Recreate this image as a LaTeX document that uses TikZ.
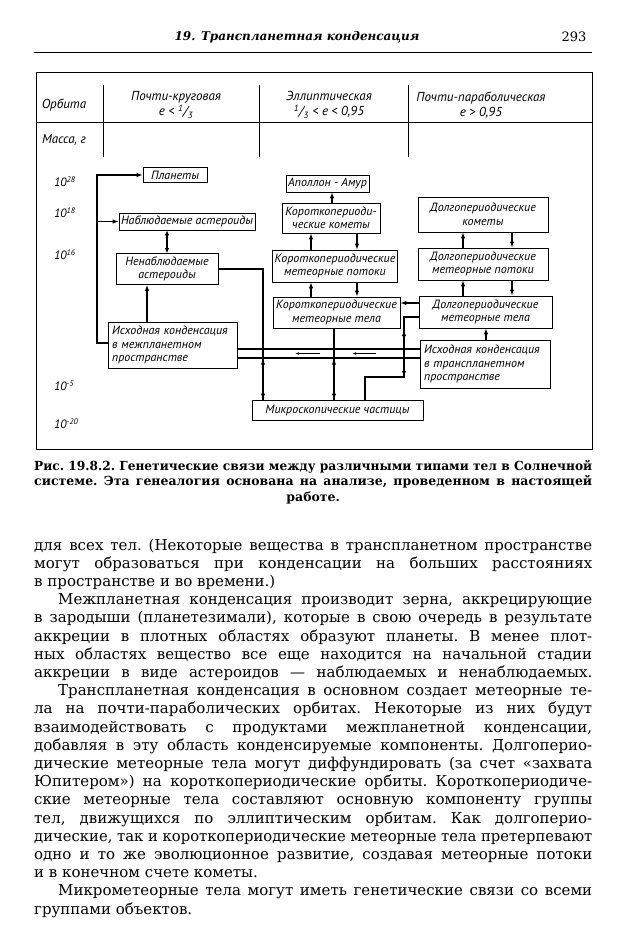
\documentclass[tikz,border=0pt]{standalone}
\usepackage{fontspec}
\usepackage{graphicx}
\setmainfont{DejaVu Serif}
\newfontfamily\diagfont{PT Sans}
\usetikzlibrary{arrows.meta}
\newsavebox\lnbox
\newcommand\fullln[1]{\sbox\lnbox{#1}%
  \ifdim\wd\lnbox>\linewidth\resizebox{\linewidth}{\height}{\usebox\lnbox}%
  \else\makebox[\linewidth][s]{#1}\fi\par}
\newcommand\lastln[1]{#1\par}
\begin{document}
\begin{tikzpicture}[x=1pt,y=-1pt,
  box/.style={draw,line width=0.7pt,inner sep=2pt,align=center,
    font=\diagfont\itshape\fontsize{12}{13.5}\selectfont},
  sz/.style 2 args={minimum width=#1,minimum height=#2},
  lab/.style={inner sep=0pt,font=\diagfont\itshape\fontsize{13}{15}\selectfont},
  link/.style={line width=1.6pt},
  tip/.style={-{Latex[length=6pt,width=4.5pt]}},
  small/.style={line width=0.6pt,-{Latex[length=4pt,width=2.5pt]}}]
\useasboundingbox (0,0) rectangle (628,950);
% running head
\node[font=\bfseries\itshape\fontsize{12}{14}\selectfont] (runhead) at (297,37) {19. Транспланетная конденсация};
\node[font=\fontsize{13}{14}\selectfont] (pagenum) at (574,37) {293};
\draw[line width=0.8pt] (34,52) -- (592,52);
% frame and table head
\draw[line width=0.8pt] (36,72) rectangle (592,449);
\draw[line width=0.7pt] (36,122) -- (592,122);
\foreach \x in {103,259,408}
  \draw[line width=0.7pt] (\x,85) -- (\x,157);
\node[lab] (orbit) at (64,105) {Орбита};
\node[lab] (mass) at (64,140) {Масса, г};
\node[lab,align=center] (col1) at (176,105) {Почти-круговая\\e < \textsuperscript{1}/\textsubscript{3}};
\node[lab,align=center] (col2) at (329,105) {Эллиптическая\\\textsuperscript{1}/\textsubscript{3} < e < 0,95};
\node[lab,align=center] (col3) at (481,105) {Почти-параболическая\\e > 0,95};
\foreach \y/\m [count=\i] in {182/28,213/18,255/16,386/-5,424/-20}
  \node[lab,anchor=west,font=\diagfont\itshape\fontsize{12}{14}\selectfont] (mass\i) at (54,\y) {10\textsuperscript{\m}};
% boxes
\node[box,sz={64}{15}] (plan) at (175,175) {Планеты};
\node[box,sz={136}{17}] (nabl) at (187,221.5) {Наблюдаемые астероиды};
\node[box,sz={102}{31}] (nenabl) at (167,269) {Ненаблюдаемые\\астероиды};
\node[box,sz={129}{46},text width=121pt,align=left] (imc) at (172.5,345) {Исходная конденсация\\в межпланетном\\пространстве};
\node[box,sz={81}{17}] (apol) at (327.5,183.5) {Аполлон - Амур};
\node[box,sz={98}{30}] (kk) at (331,218) {Короткопериоди-\\ческие кометы};
\node[box,sz={124}{32}] (kp) at (335,266) {Короткопериодические\\метеорные потоки};
\node[box,sz={127}{31}] (kt) at (336.5,312.5) {Короткопериодические\\метеорные тела};
\node[box,sz={130}{35}] (dk) at (483,214.5) {Долгопериодические\\кометы};
\node[box,sz={130}{32}] (dp) at (483,264) {Долгопериодические\\метеорные потоки};
\node[box,sz={133}{32}] (dt) at (485.5,312) {Долгопериодические\\метеорные тела};
\node[box,sz={130}{48},text width=122pt,align=left] (itc) at (485,364) {Исходная конденсация\\в транспланетном\\пространстве};
\node[box,sz={171}{20}] (micro) at (337.5,410) {Микроскопические частицы};
% links
\coordinate (trunk) at (97,0);
\coordinate (bend) at (404,377);
\draw[link,tip] (imc.west |- 0,343) -| (trunk |- plan.west) -- (plan.west);
\draw[link,tip] (trunk |- nabl.west) -- (nabl.west);
\draw[link,{Latex[length=5pt,width=4.5pt]}-{Latex[length=5pt,width=4.5pt]}] (nabl.south -| nenabl.north) -- (nenabl.north);
\draw[link,tip] (imc.north -| 147,0) -- (nenabl.south -| 147,0);
\draw[link] (imc.east |- 0,349) -- (itc.west |- 0,349);
\draw[link] (imc.east |- 0,358) -- (itc.west |- 0,358);
\draw[small] (320,353.5) -- (295,353.5);
\draw[small] (376,353.5) -- (352,353.5);
\draw[link,tip] (nenabl.east) -| (micro.north -| 263,0);
\draw[link,tip] (kt.south -| 334,0) -- (micro.north -| 334,0);
\foreach \x in {263,334}
  \draw[link,tip] (micro.north -| \x,0) -- ++(0,-41);
\draw[link,tip] (dt.west |- 0,303) -- (kt.east |- 0,303);
\draw[link] (dt.west |- 0,317) -| (bend) -| (micro.north -| 365,0);
\draw[link,tip] (bend |- 0,349) -- (bend |- 0,330);
\draw[link,tip] (bend |- 0,362) -- (bend);
\foreach \lo/\hi in {kp/kk,kt/kp}{
  \draw[link,tip] (\lo.north -| 311,0) -- (\hi.south -| 311,0);
  \draw[link,tip] (\hi.south -| 357,0) -- (\lo.north -| 357,0);
}
\foreach \lo/\hi in {dp/dk,dt/dp}{
  \draw[link,tip] (\lo.north -| 463,0) -- (\hi.south -| 463,0);
  \draw[link,tip] (\hi.south -| 512,0) -- (\lo.north -| 512,0);
}
\draw[link,tip] (kk.north -| 332,0) -- (apol.south -| 332,0);
\draw[link,tip] (itc.north -| 486,0) -- (dt.south -| 486,0);
% caption
\node[anchor=base west,inner sep=0pt] (caption) at (34,470) {\parbox[t]{558pt}{\frenchspacing\bfseries\fontsize{12.5}{15.5}\selectfont
\fullln{Рис. 19.8.2. Генетические связи между различными типами тел в Солнечной}
\fullln{системе. Эта генеалогия основана на анализе, проведенном в настоящей}
\makebox[\linewidth][c]{работе.}}};
% text
\node[anchor=base west,inner sep=0pt] (body) at (34,550) {\parbox[t]{558pt}{\frenchspacing\fontsize{15}{18.2}\selectfont
\fullln{для всех тел. (Некоторые вещества в транспланетном пространстве}
\fullln{могут образоваться при конденсации на больших расстояниях}
\lastln{в пространстве и во времени.)}
\fullln{\hspace*{24pt}Межпланетная конденсация производит зерна, аккрецирующие}
\fullln{в зародыши (планетезимали), которые в свою очередь в результате}
\fullln{аккреции в плотных областях образуют планеты. В менее плот-}
\fullln{ных областях вещество все еще находится на начальной стадии}
\fullln{аккреции в виде астероидов — наблюдаемых и ненаблюдаемых.}
\fullln{\hspace*{24pt}Транспланетная конденсация в основном создает метеорные те-}
\fullln{ла на почти-параболических орбитах. Некоторые из них будут}
\fullln{взаимодействовать с продуктами межпланетной конденсации,}
\fullln{добавляя в эту область конденсируемые компоненты. Долгоперио-}
\fullln{дические метеорные тела могут диффундировать (за счет «захвата}
\fullln{Юпитером») на короткопериодические орбиты. Короткопериодиче-}
\fullln{ские метеорные тела составляют основную компоненту группы}
\fullln{тел, движущихся по эллиптическим орбитам. Как долгоперио-}
\fullln{дические, так и короткопериодические метеорные тела претерпевают}
\fullln{одно и то же эволюционное развитие, создавая метеорные потоки}
\lastln{и в конечном счете кометы.}
\fullln{\hspace*{24pt}Микрометеорные тела могут иметь генетические связи со всеми}
\lastln{группами объектов.}}};
\end{tikzpicture}
\end{document}
